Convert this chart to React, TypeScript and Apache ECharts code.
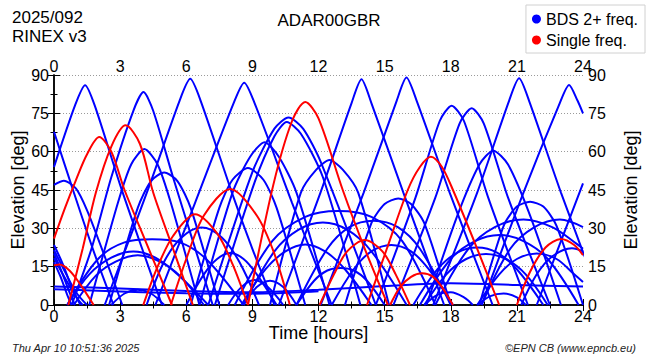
import React, { useEffect, useRef } from "react";
import * as echarts from "echarts";

const FONT = "'Liberation Sans', Arial, Helvetica, sans-serif";

const stationName = "ADAR00GBR";
const dayLabel = "2025/092";
const rinexLabel = "RINEX v3";
const timestamp = "Thu Apr 10 10:51:36 2025";
const credit = "\u00A9EPN CB (www.epncb.eu)";
const blueName = "BDS 2+ freq.";
const redName = "Single freq.";

// hours 0..24, elevation 0..90
const xTicks = [0, 3, 6, 9, 12, 15, 18, 21, 24];
const yTicks = [0, 15, 30, 45, 60, 75, 90];

// steep (MEO-like) BDS passes: [hour, elevation]
const blueHighPasses: number[][][] = [
  [[0, 67.8], [0.9, 44], [1.8, 21], [2.7, 0]],
  [[0, 54], [0.95, 78], [1.41, 86], [1.85, 78], [3.0, 47], [4.0, 22], [4.9, 0]],
  [[0.8, 0], [1.7, 22], [2.6, 50], [3.6, 76], [4.06, 83.3], [4.5, 76], [5.4, 50], [6.3, 25], [7.2, 0]],
  [[2.3, 0], [3.3, 23], [4.3, 46], [5.7, 80], [6.18, 88.5], [6.65, 80], [8.07, 44], [9.0, 22], [10.0, 0]],
  [[4.6, 0], [5.5, 20], [6.4, 40], [8.15, 79], [8.63, 87], [9.1, 79], [10.8, 40], [11.7, 20], [12.6, 0]],
  [[10.2, 0], [12.09, 44], [13.5, 79], [13.95, 88.3], [14.4, 79], [15.85, 44], [17.7, 0]],
  [[12.1, 0], [14.05, 44], [15.55, 80], [15.99, 89], [16.45, 80], [17.95, 44], [19.9, 0]],
  [[14.6, 0], [16.4, 42], [17.5, 72], [18.04, 78], [18.6, 72], [19.7, 42], [21.5, 0]],
  [[15.4, 0], [17.3, 42], [18.4, 71], [18.95, 77], [19.5, 71], [20.6, 42], [22.5, 0]],
  [[16.9, 0], [18.3, 35], [19.3, 55], [19.93, 60.4], [20.6, 55], [21.6, 35], [23.0, 0]],
  [[17.2, 0], [19.2, 44], [20.65, 80], [21.1, 88.7], [21.55, 80], [23.0, 44], [24.9, 0]],
  [[19.4, 0], [21.3, 44], [22.9, 78], [23.37, 86.1], [23.75, 80], [24, 75]],
  [[21.9, 0], [23.0, 25], [24, 47.6]],
  [[0, 47], [0.45, 48.6], [1.0, 45.5], [1.5, 37], [2.3, 19], [3.1, 0]],
  [[1.6, 0], [2.9, 40], [3.5, 55], [4.1, 61], [4.7, 55], [5.3, 40], [6.6, 0]],
  [[2.5, 0], [3.8, 38], [4.4, 48.5], [5.0, 51.8], [5.6, 48.5], [6.2, 38], [7.5, 0]],
  [[6.2, 0], [7.5, 38], [8.1, 49], [8.8, 53.6], [9.5, 49], [10.1, 38], [11.4, 0]],
  [[6.6, 0], [8.1, 44], [8.9, 58], [9.55, 63.7], [10.2, 58], [11.0, 44], [12.5, 0]],
  [[7.0, 0], [9.0, 52], [10.0, 69], [10.64, 73.4], [11.3, 69], [12.1, 56], [14.6, 0]],
  [[7.3, 0], [9.1, 48], [10.0, 66], [10.56, 71.6], [11.2, 67], [12.2, 50], [13.9, 0]],
  [[9.8, 0], [11.2, 44], [11.9, 53], [12.5, 56.7], [13.1, 53], [13.8, 44], [15.2, 0]],
  [[13.2, 0], [14.4, 32], [15.0, 39.5], [15.62, 41.7], [16.2, 39.5], [16.8, 32], [18.0, 0]],
  [[19.3, 0], [20.4, 31], [21.0, 38.5], [21.6, 40.4], [22.2, 38.5], [22.8, 31], [24, 0]],
];

// long low (IGSO-like) BDS passes and short ones near the horizon
const blueLowPasses: number[][][] = [
  [[0, 23.5], [0.4, 16], [0.8, 7], [1.2, 0]],
  [[0, 21.5], [0.5, 13], [1.0, 5], [1.5, 0]],
  [[0, 20.2], [0.35, 13], [0.7, 5], [0.95, 0]],
  [[0, 18.4], [0.6, 9], [1.1, 2], [1.3, 0]],
  [[0, 16.8], [0.3, 11], [0.6, 4], [0.8, 0]],
  [[0.6, 0], [2.0, 18], [3.2, 24.5], [4.45, 25.7], [5.7, 24.5], [6.9, 18], [8.6, 0]],
  [[0.6, 0], [1.6, 12], [2.6, 18.5], [3.6, 20.9], [4.6, 18.5], [5.6, 12], [7.0, 0]],
  [[0.9, 0], [1.9, 11.5], [2.8, 17], [3.8, 19.5], [4.8, 17], [5.7, 11.5], [6.8, 0]],
  [[2.6, 0], [3.2, 4.5], [3.8, 6], [4.4, 4.5], [5.0, 0]],
  [[4.2, 0], [5.0, 17], [5.8, 26.5], [6.7, 30.3], [7.6, 26.5], [8.4, 17], [9.3, 0]],
  [[6.0, 0], [6.8, 12], [7.4, 18], [8.0, 20.3], [8.6, 18], [9.2, 12], [10.1, 0]],
  [[7.9, 0], [8.5, 7], [9.1, 9.8], [9.7, 7], [10.4, 0]],
  [[8.6, 0], [9.2, 7], [9.8, 9.5], [10.4, 7], [11.0, 0]],
  [[8.6, 0], [10.0, 21], [11.1, 29.5], [12.2, 32.3], [13.3, 29.5], [14.4, 21], [16.0, 0]],
  [[8.2, 0], [9.9, 25], [11.4, 34.5], [12.9, 36.8], [14.4, 34.5], [15.8, 25], [17.3, 0]],
  [[8.5, 0], [9.6, 14], [10.5, 21], [11.4, 23.7], [12.3, 21], [13.2, 14], [14.4, 0]],
  [[11.0, 0], [12.4, 22], [13.4, 30.5], [14.5, 33], [15.6, 30.5], [16.6, 22], [18.0, 0]],
  [[12.6, 0], [13.6, 14], [14.4, 21], [15.3, 23.5], [16.2, 21], [17.0, 14], [18.1, 0]],
  [[11.0, 0], [11.8, 9.5], [12.4, 13.5], [13.0, 14.5], [13.6, 13.5], [14.2, 9.5], [15.0, 0]],
  [[16.8, 0], [17.4, 4], [18.0, 5], [18.6, 3], [19.0, 0]],
  [[19.2, 0], [19.8, 3.5], [20.4, 4.5], [21.0, 3], [21.4, 0]],
  [[16.3, 0], [17.4, 14], [18.3, 20.5], [19.2, 22.5], [20.1, 20.5], [21.0, 14], [22.2, 0]],
  [[16.6, 0], [18.0, 18], [19.1, 25], [20.2, 27.4], [21.3, 25], [22.4, 18], [23.8, 0]],
  [[17.3, 0], [18.8, 22], [20.0, 30.5], [21.3, 33.5], [22.6, 30.5], [23.7, 24], [24, 22]],
  [[19.4, 0], [20.7, 22], [21.8, 30.5], [22.95, 33.5], [24, 30.5]],
  [[19.2, 0], [20.2, 12], [21.0, 18], [21.9, 20.2], [22.8, 18], [23.6, 12], [24, 9]],
  [[21.2, 0], [21.9, 12], [22.6, 19], [23.5, 22.2], [24, 21]],
  [[16.8, 0], [17.8, 12], [18.7, 18], [19.6, 20], [20.5, 18], [21.4, 12], [22.4, 0]],
];

// geostationary tracks (nearly flat)
const geoTracks: number[][][] = [
  [[0, 7.2], [3, 6.5], [6, 5.5], [9, 5.0], [12, 6.0], [15, 7.4], [18, 8.5], [21, 7.8], [24, 7.2]],
  [[0, 6.2], [2, 5.6], [4, 5.0], [6, 4.6], [8, 4.4], [10, 4.6], [12, 5.4]],
];

// single-frequency passes
const redPasses: number[][][] = [
  [[0, 15.5], [0.25, 15.8], [0.7, 13.5], [1.2, 8], [1.8, 0]],
  [[0, 26], [0.5, 38], [1.0, 49], [1.5, 59], [2.05, 65.7], [2.6, 60], [3.2, 45], [4.2, 24], [5.35, 0]],
  [[0.65, 0], [1.3, 22], [1.9, 44], [2.6, 62], [3.25, 70.3], [3.9, 63], [4.5, 44], [5.4, 22], [6.3, 0]],
  [[4.05, 0], [4.7, 15], [5.4, 27], [6.4, 35.5], [7.4, 28], [8.1, 16], [8.8, 0]],
  [[5.3, 0], [6.0, 18], [6.8, 35], [8.0, 45.4], [9.2, 35], [10.0, 20], [10.7, 0]],
  [[8.8, 0], [9.95, 47], [10.8, 72], [11.4, 79.4], [12.0, 73], [13.1, 45], [14.1, 22], [15.15, 0]],
  [[12.05, 0], [12.7, 12], [13.3, 21], [14.1, 25.4], [14.9, 21], [15.5, 12], [16.15, 0]],
  [[14.2, 0], [15.1, 22], [16.05, 45], [16.6, 54], [17.1, 58], [17.6, 54], [18.1, 45], [19.2, 22], [20.2, 0]],
  [[15.25, 0], [15.7, 7], [16.2, 11], [16.7, 12.4], [17.2, 11], [17.6, 7], [18.1, 0]],
  [[21.0, 0], [21.6, 13], [22.3, 22.5], [23.0, 25.8], [23.6, 23.5], [24, 19.5]],
];

const BLUE = "#0000ff";
const RED = "#ff0000";

function lineSeries(name: string, color: string, data: number[][], smooth: number) {
  return {
    type: "line",
    name,
    data,
    xAxisIndex: 0,
    yAxisIndex: 0,
    showSymbol: false,
    symbol: "none",
    smooth,
    silent: true,
    clip: true,
    itemStyle: { color },
    lineStyle: { color, width: 2 },
  };
}

export default function App() {
  const ref = useRef<HTMLDivElement>(null);

  useEffect(() => {
    const chart = echarts.init(ref.current!, null, { renderer: "svg" });
    const axisLine = { show: true, lineStyle: { color: "#000", width: 1.5 } };
    const axisTick = { show: true, inside: true, length: 6, lineStyle: { color: "#000", width: 1 } };
    const minorTick = { show: true, splitNumber: 2, length: 3.5, lineStyle: { color: "#000", width: 1 } };
    const labelStyle = { fontSize: 16, color: "#000", fontFamily: FONT };

    const series: any[] = [];
    blueHighPasses.forEach((p) => series.push(lineSeries(blueName, BLUE, p, 0.25)));
    blueLowPasses.forEach((p) => series.push(lineSeries(blueName, BLUE, p, 0.35)));
    geoTracks.forEach((p) => series.push(lineSeries(blueName, BLUE, p, 0.3)));
    redPasses.forEach((p) => series.push(lineSeries(redName, RED, p, 0.3)));

    chart.setOption({
      animation: false,
      backgroundColor: "#fff",
      textStyle: { fontFamily: FONT },
      grid: { left: 54, right: 67, top: 75, bottom: 55, containLabel: false, outerBoundsMode: "none" },
      legend: {
        data: [
          { name: blueName, icon: "circle" },
          { name: redName, icon: "circle" },
        ],
        orient: "vertical",
        right: 5,
        top: 5,
        itemWidth: 9,
        itemHeight: 9,
        itemGap: 5,
        padding: [6, 7, 5, 6],
        borderColor: "#d0d0d0",
        borderWidth: 1,
        backgroundColor: "#fff",
        selectedMode: false,
        textStyle: { fontSize: 16, color: "#000", fontFamily: FONT },
      },
      xAxis: [
        {
          type: "value",
          position: "bottom",
          min: xTicks[0],
          max: xTicks[xTicks.length - 1],
          interval: 3,
          axisLine,
          axisTick,
          minorTick,
          splitLine: { show: false },
          axisLabel: { ...labelStyle, margin: 3 },
          name: "Time [hours]",
          nameLocation: "middle",
          nameGap: 19,
          nameMoveOverlap: false,
          nameTextStyle: { fontSize: 18, color: "#000", fontFamily: FONT, verticalAlign: "top" },
        },
        {
          type: "value",
          position: "top",
          min: xTicks[0],
          max: xTicks[xTicks.length - 1],
          interval: 3,
          axisLine,
          axisTick,
          minorTick,
          splitLine: { show: false },
          axisLabel: { ...labelStyle, margin: 1 },
        },
      ],
      yAxis: [
        {
          type: "value",
          position: "left",
          min: yTicks[0],
          max: yTicks[yTicks.length - 1],
          interval: 15,
          axisLine,
          axisTick,
          minorTick,
          splitLine: { show: true, lineStyle: { color: "#9a9a9a", type: [1, 2], width: 1 } },
          axisLabel: { ...labelStyle, margin: 5 },
          name: "Elevation [deg]",
          nameLocation: "middle",
          nameGap: 27,
          nameMoveOverlap: false,
          nameRotate: 90,
          nameTextStyle: { fontSize: 18, color: "#000", fontFamily: FONT },
        },
        {
          type: "value",
          position: "right",
          min: yTicks[0],
          max: yTicks[yTicks.length - 1],
          interval: 15,
          axisLine,
          axisTick,
          minorTick,
          splitLine: { show: false },
          axisLabel: { ...labelStyle, margin: 5 },
          name: "Elevation [deg]",
          nameLocation: "middle",
          nameGap: 39,
          nameMoveOverlap: false,
          nameRotate: 90,
          nameTextStyle: { fontSize: 18, color: "#000", fontFamily: FONT },
        },
      ],
      graphic: [
        {
          type: "text",
          x: 12,
          y: 9,
          style: { text: dayLabel, fontSize: 17, fontFamily: FONT, fill: "#000", textVerticalAlign: "top" },
        },
        {
          type: "text",
          x: 12,
          y: 28,
          style: { text: rinexLabel, fontSize: 17, fontFamily: FONT, fill: "#000", textVerticalAlign: "top" },
        },
        {
          type: "text",
          x: 329,
          y: 12,
          style: {
            text: stationName,
            fontSize: 17,
            fontFamily: FONT,
            fill: "#000",
            textAlign: "center",
            textVerticalAlign: "top",
          },
        },
        {
          type: "text",
          x: 12,
          y: 348,
          style: {
            text: timestamp,
            fontSize: 11,
            fontStyle: "italic",
            fontFamily: FONT,
            fill: "#222",
            textVerticalAlign: "middle",
          },
        },
        {
          type: "text",
          x: 636,
          y: 348,
          style: {
            text: credit,
            fontSize: 11,
            fontStyle: "italic",
            fontFamily: FONT,
            fill: "#222",
            textAlign: "right",
            textVerticalAlign: "middle",
          },
        },
      ],
      series,
    });
    return () => chart.dispose();
  }, []);

  return (
    <div
      ref={ref}
      style={{ position: "fixed", left: 0, top: 0, width: 650, height: 360, background: "#fff" }}
    />
  );
}
